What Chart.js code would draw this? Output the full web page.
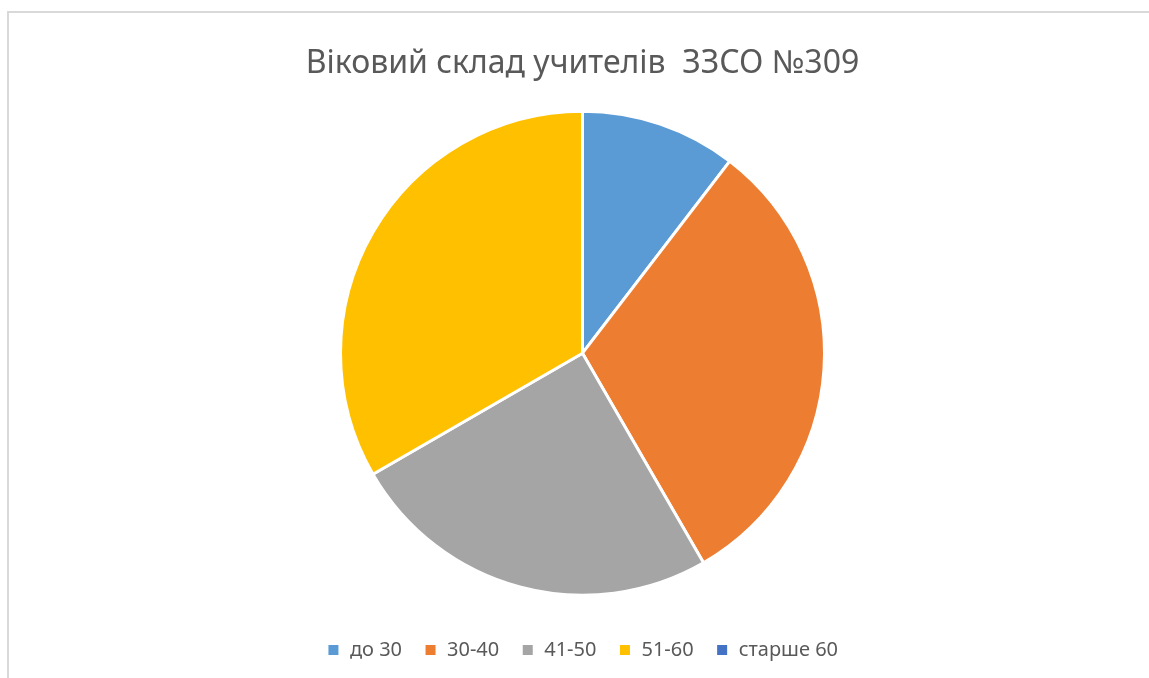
<!DOCTYPE html>
<html>
<head>
<meta charset="utf-8">
<script src="https://cdn.jsdelivr.net/npm/chart.js@4.4.0/dist/chart.umd.min.js"></script>
<style>
  html, body { margin: 0; padding: 0; background: #fff; overflow: hidden; }
  #frame {
    position: absolute; left: 7px; top: 11px;
    width: 1200px; height: 700px;
    border-left: 2px solid #d9d9d9; border-top: 2px solid #d9d9d9;
  }
  #wrap { position: absolute; left: 0; top: 0; width: 1149px; height: 678px; }
</style>
</head>
<body>
<div id="frame"></div>
<div id="wrap"><canvas id="chart"></canvas></div>
<script>
const categories = ['до 30', '30-40', '41-50', '51-60', 'старше 60'];
const teachers = [5, 15, 12, 16, 0];
const sliceColors = ['#5B9BD5', '#ED7D31', '#A5A5A5', '#FFC000', '#4472C4'];

const ctx = document.querySelector('#chart');
const chart = new Chart(ctx, {
    type: 'pie',
    data: {
        labels: categories,
        datasets: [{
            data: teachers,
            backgroundColor: sliceColors,
            borderColor: '#ffffff',
            borderWidth: 3,
            radius: 242
        }]
    },
    options: {
        responsive: true,
        maintainAspectRatio: false,
        animation: false,
        layout: { padding: { top: 0, bottom: 8, left: 16 } },
        plugins: {
            title: {
                display: true,
                text: 'Віковий склад учителів  ЗЗСО №309',
                color: '#595959',
                font: { family: 'Noto Sans', size: 32, weight: 'normal' },
                padding: { top: 45, bottom: 5 }
            },
            legend: {
                position: 'bottom',
                labels: {
                    color: '#595959',
                    font: { family: 'Noto Sans', size: 20 },
                    boxWidth: 13,
                    boxHeight: 13,
                    padding: 22
                }
            },
            tooltip: { enabled: false }
        }
    }
});
</script>
</body>
</html>
